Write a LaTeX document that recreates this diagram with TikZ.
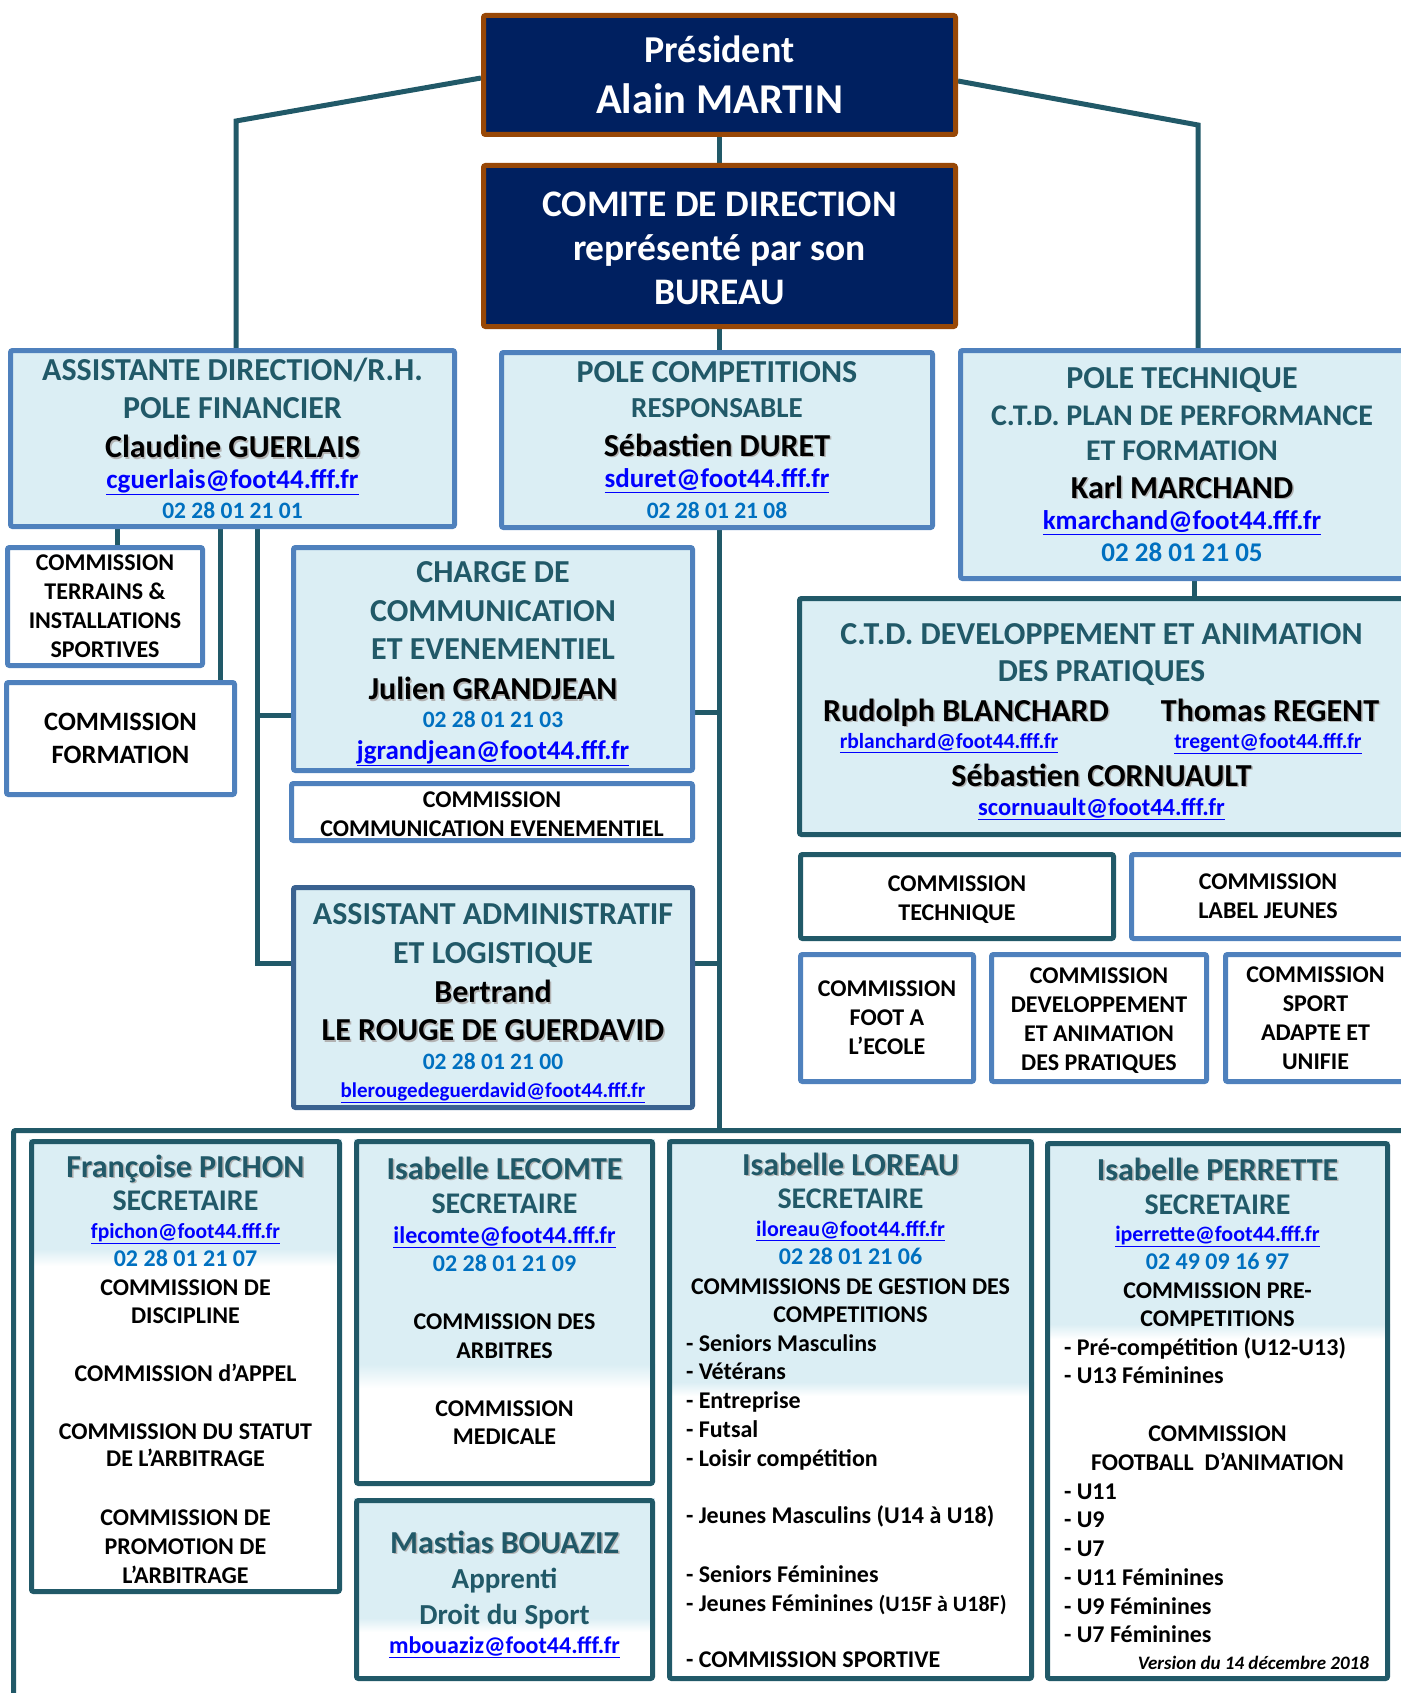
\documentclass[tikz,border=0pt]{standalone}
\usepackage{fontspec}
\setmainfont{Carlito}
\usetikzlibrary{backgrounds}

\definecolor{navy}{HTML}{002060}
\definecolor{rust}{HTML}{984807}
\definecolor{darkteal}{HTML}{215968}
\definecolor{boxblue}{HTML}{4F81BD}
\definecolor{adminblue}{HTML}{3A6290}
\definecolor{paleblue}{HTML}{DBEEF4}
\definecolor{phoneblue}{HTML}{0070C0}
\definecolor{linkblue}{HTML}{0000FF}

% text helpers, all lines keep a 40pt baseline skip
\newcommand\shadowed[1]{\rlap{\kern1.5pt\raisebox{-1.5pt}{\textcolor{black!30}{#1}}}#1}
\newcommand\head[2][32]{{\fontsize{#1}{40}\selectfont\color{darkteal}#2}}
\newcommand\who[2][32]{{\fontsize{#1}{40}\selectfont\shadowed{#2}}}
\newcommand\twho[2][32]{{\fontsize{#1}{40}\selectfont\color{darkteal}\shadowed{#2}}}
\newcommand\mail[2][27]{{\fontsize{#1}{40}\selectfont\color{linkblue}\underline{#2}}}
\newcommand\tel[2][23.5]{{\fontsize{#1}{40}\selectfont\color{phoneblue}#2}}
\newcommand\txt[2][24]{{\fontsize{#1}{40}\selectfont #2}}
\newcommand\puce[2]{\makebox[0pt][l]{\hspace*{#1}\txt{- #2}}}
% struts to move a text block down (first line) or up (last line)
\newcommand\dn[1]{\rule{0pt}{#1}}
\newcommand\up[1]{\rule[-#1]{0pt}{#1}}

\begin{document}
\begin{tikzpicture}[x=1pt, y=-1pt,
    box/.style={line width=5pt, rounded corners=2pt, align=center, inner sep=0pt,
      font=\bfseries\fontsize{20}{40}\selectfont},
    topbox/.style={box, fill=navy, draw=rust, text=white},
    bluebox/.style={box, fill=paleblue, draw=boxblue},
    whitebox/.style={box, fill=white, draw=boxblue},
    tealbox/.style={box, fill=white, draw=darkteal},
    secbox/.style={box, draw=darkteal},
    link/.style={line width=5pt, draw=darkteal}]
  \useasboundingbox (0,0) rectangle (1400,1693);

  % direction
  \node[topbox, minimum width=472pt, minimum height=119pt] (pres) at (719.5,75)
    {{\fontsize{38}{40}\selectfont Président}\\[11pt]{\fontsize{42.5}{40}\selectfont Alain MARTIN}};
  \node[topbox, minimum width=472pt, minimum height=161pt] (comite) at (719.5,246)
    {\dn{29pt}\txt[37.5]{COMITE DE DIRECTION}\\[4pt]\txt[37.5]{représenté par son}\\[4pt]\txt[37.5]{BUREAU}};

  % poles
  \node[bluebox, minimum width=444pt, minimum height=176pt] (assist) at (232.5,438.5)
    {\head{ASSISTANTE DIRECTION/R.H.}\\[-2pt]\head{POLE FINANCIER}\\[-1pt]\who{Claudine GUERLAIS}\\[-9pt]\mail{cguerlais@foot44.fff.fr}\\[-10pt]\tel{02 28 01 21 01}};
  \node[bluebox, minimum width=431pt, minimum height=175pt] (comp) at (717,440)
    {\head{POLE COMPETITIONS}\\[-5pt]\head[29]{RESPONSABLE}\\[-1pt]\who{Sébastien DURET}\\[-9pt]\mail{sduret@foot44.fff.fr}\\[-9pt]\tel{02 28 01 21 08}};
  \node[bluebox, minimum width=443pt, minimum height=228pt] (tech) at (1182,464.5)
    {\head{POLE TECHNIQUE}\\[-3pt]\head[30]{C.T.D. PLAN DE PERFORMANCE}\\[-5pt]\head[30]{ET FORMATION}\\[-2pt]\who{Karl MARCHAND}\\[-9pt]\mail{kmarchand@foot44.fff.fr}\\[-8pt]\tel[27]{02 28 01 21 05}};

  % left column
  \node[whitebox, minimum width=195pt, minimum height=118pt] (terr) at (105,606.5)
    {\txt{COMMISSION}\\[-11pt]\txt{TERRAINS \&}\\[-11pt]\txt{INSTALLATIONS}\\[-11pt]\txt{SPORTIVES}};
  \node[whitebox, minimum width=228pt, minimum height=112pt] (form) at (120.5,738.5)
    {\txt[26.5]{COMMISSION}\\[-7pt]\txt[26.5]{FORMATION}};
  \node[bluebox, minimum width=399pt, minimum height=223pt] (charge) at (493,659)
    {\dn{31pt}\head{CHARGE DE}\\[-1pt]\head{COMMUNICATION}\\[-2pt]\head{ET EVENEMENTIEL}\\[0pt]\who{Julien GRANDJEAN}\\[-12pt]\tel{02 28 01 21 03}\\[-8pt]\mail{jgrandjean@foot44.fff.fr}};
  \node[whitebox, minimum width=401pt, minimum height=57pt] (commcom) at (492,812)
    {\dn{20pt}\txt{COMMISSION}\\[-11pt]\txt{COMMUNICATION EVENEMENTIEL}};
  \node[bluebox, draw=adminblue, minimum width=399pt, minimum height=220pt] (admin) at (493,997.5)
    {\dn{33pt}\head{ASSISTANT ADMINISTRATIF}\\[-1pt]\head{ET LOGISTIQUE}\\[-1pt]\who{Bertrand}\\[-2pt]\who{LE ROUGE DE GUERDAVID}\\[-11pt]\tel{02 28 01 21 00}\\[-12pt]\mail[21]{blerougedeguerdavid@foot44.fff.fr}};

  % right column
  \node[bluebox, draw=darkteal, minimum width=604pt, minimum height=236pt] (ctd) at (1101.5,716.5)
    {\dn{31pt}\head{C.T.D. DEVELOPPEMENT ET ANIMATION}\\[-3pt]\head{DES PRATIQUES}\\[0pt]%
     \makebox[0pt]{\hspace*{-271pt}\who{Rudolph BLANCHARD}}\makebox[0pt]{\hspace*{337pt}\who{Thomas REGENT}}\\[-13pt]%
     \makebox[0pt]{\hspace*{-305pt}\mail[21.5]{rblanchard@foot44.fff.fr}}\makebox[0pt]{\hspace*{333pt}\mail[21.5]{tregent@foot44.fff.fr}}\\[-2pt]%
     \who{Sébastien CORNUAULT}\\[-11pt]\mail[24.5]{scornuault@foot44.fff.fr}};
  \node[tealbox, minimum width=313pt, minimum height=84pt] (ctech) at (957,896.5)
    {\dn{22pt}\txt{COMMISSION}\\[-11pt]\txt{TECHNIQUE}};
  \node[whitebox, minimum width=273pt, minimum height=84pt] (jeunes) at (1268,896.5)
    {\txt{COMMISSION}\\[-11pt]\txt{LABEL JEUNES}};
  \node[whitebox, minimum width=173pt, minimum height=127pt] (foot) at (887,1018)
    {\txt{COMMISSION}\\[-11pt]\txt{FOOT A}\\[-11pt]\txt{L’ECOLE}};
  \node[whitebox, minimum width=215pt, minimum height=127pt] (devpr) at (1099,1018)
    {\dn{20pt}\txt{COMMISSION}\\[-11pt]\txt{DEVELOPPEMENT}\\[-11pt]\txt{ET ANIMATION}\\[-11pt]\txt{DES PRATIQUES}};
  \node[whitebox, minimum width=180pt, minimum height=127pt] (sport) at (1315.5,1018)
    {\txt{COMMISSION}\\[-11pt]\txt{SPORT}\\[-11pt]\txt{ADAPTE ET}\\[-11pt]\txt{UNIFIE}};

  % secretariat
  \node[secbox, minimum width=1404pt, minimum height=587pt] (bottom) at (715.5,1424) {};
  \node[secbox, minimum width=308pt, minimum height=450pt] (pichon) at (185.5,1366.5)
    {\dn{28pt}\twho{Françoise PICHON}\\[-7pt]\head[30]{SECRETAIRE}\\[-12pt]\mail[21.5]{fpichon@foot44.fff.fr}\\[-12pt]\tel[24]{02 28 01 21 07}\\[-11pt]%
     \txt{COMMISSION DE}\\[-12pt]\txt{DISCIPLINE}\\[18pt]\txt{COMMISSION d’APPEL}\\[18pt]%
     \txt{COMMISSION DU STATUT}\\[-13pt]\txt{DE L’ARBITRAGE}\\[19pt]%
     \txt{COMMISSION DE}\\[-11pt]\txt{PROMOTION DE}\\[-11pt]\txt{L’ARBITRAGE}};
  \node[secbox, minimum width=296pt, minimum height=342pt] (lecomte) at (504.5,1312.5)
    {\twho{Isabelle LECOMTE}\\[-6pt]\head[30]{SECRETAIRE}\\[-10pt]\mail[24]{ilecomte@foot44.fff.fr}\\[-12pt]\tel[24]{02 28 01 21 09}\\[18pt]%
     \txt{COMMISSION DES}\\[-11pt]\txt{ARBITRES}\\[18pt]\txt{COMMISSION}\\[-12pt]\txt{MEDICALE}\up{24pt}};
  \node[secbox, minimum width=296pt, minimum height=178pt] (bouaziz) at (504.5,1589.5)
    {\dn{32pt}\twho{Mastias BOUAZIZ}\\[-5pt]\head[29]{Apprenti}\\[-4pt]\head[29]{Droit du Sport}\\[-11pt]\mail[24]{mbouaziz@foot44.fff.fr}};
  \node[secbox, minimum width=362pt, minimum height=537pt] (loreau) at (850.5,1410)
    {\twho{Isabelle LOREAU}\\[-7pt]\head[30]{SECRETAIRE}\\[-12pt]\mail[22]{iloreau@foot44.fff.fr}\\[-12pt]\tel[24]{02 28 01 21 06}\\[-10pt]%
     \txt{COMMISSIONS DE GESTION DES}\\[-12pt]\txt{COMPETITIONS}\\[-11pt]%
     \puce{-164.5pt}{Seniors Masculins}\\[-12pt]\puce{-164.5pt}{Vétérans}\\[-11pt]\puce{-164.5pt}{Entreprise}\\[-11pt]%
     \puce{-164.5pt}{Futsal}\\[-11pt]\puce{-164.5pt}{Loisir compétition}\\[17pt]%
     \puce{-164.5pt}{Jeunes Masculins (U14 à U18)}\\[19pt]\puce{-164.5pt}{Seniors Féminines}\\[-11pt]%
     \puce{-164.5pt}{Jeunes Féminines {\fontsize{22}{40}\selectfont(U15F à U18F)}}\\[16pt]\puce{-164.5pt}{COMMISSION SPORTIVE}};
  \node[secbox, minimum width=340pt, minimum height=535pt] (perrette) at (1217.5,1411)
    {\dn{28pt}\twho{Isabelle PERRETTE}\\[-6pt]\head[30]{SECRETAIRE}\\[-13pt]\mail[22]{iperrette@foot44.fff.fr}\\[-12pt]\tel[24]{02 49 09 16 97}\\[-11pt]%
     \txt{COMMISSION PRE-}\\[-12pt]\txt{COMPETITIONS}\\[-11pt]%
     \puce{-153.5pt}{Pré-compétition (U12-U13)}\\[-12pt]\puce{-153.5pt}{U13 Féminines}\\[18pt]%
     \txt{COMMISSION}\\[-11pt]\txt{FOOTBALL\ \ D’ANIMATION}\\[-11pt]%
     \puce{-153.5pt}{U11}\\[-12pt]\puce{-153.5pt}{U9}\\[-11pt]\puce{-153.5pt}{U7}\\[-11pt]%
     \puce{-153.5pt}{U11 Féminines}\\[-11pt]\puce{-153.5pt}{U9 Féminines}\\[-12pt]\puce{-153.5pt}{U7 Féminines}\\[-13pt]%
     \makebox[0pt][r]{{\itshape\fontsize{19}{40}\selectfont Version du 14 décembre 2018}\hspace*{-151.5pt}}};

  \begin{scope}[on background layer]
    % connectors
    \coordinate (lk) at (236,121);
    \coordinate (rk) at (1198,125);
    \draw[link] ([yshift=-3pt]pres.west) -- (lk) -- (lk |- assist.north);
    \draw[link] ([yshift=-6pt]pres.east) -- (rk) -- (rk |- tech.north);
    \draw[link] (pres.south) -- (comite.north);
    \draw[link] (comite.south) -- (comite.south |- bottom.north);
    \coordinate (ls) at (257,963);
    \coordinate (lc) at (257,715);
    \draw[link] (ls |- assist.south) -- (ls) -- (admin.west |- ls);
    \draw[link] (lc) -- (charge.west |- lc);
    \draw[link] (charge.east |- 0,712) -- (comite.south |- 0,712);
    \draw[link] (admin.east |- ls) -- (comite.south |- ls);
    \draw[link] (117,0 |- assist.south) -- (117,0 |- terr.north);
    \draw[link] (220,0 |- assist.south) -- (220,0 |- form.north);
    \draw[link] (1194,0 |- tech.south) -- (1194,0 |- ctd.north);
    % fading fills of the secretariat boxes
    \fill[paleblue] (pichon.north west) rectangle (pichon.east |- 0,1250);
    \shade[top color=paleblue, bottom color=white] (pichon.west |- 0,1249) rectangle (pichon.east |- 0,1266);
    \fill[paleblue] (lecomte.north west) rectangle (lecomte.east |- 0,1365);
    \shade[top color=paleblue, bottom color=white] (lecomte.west |- 0,1364) rectangle (lecomte.east |- 0,1388);
    \fill[paleblue] (bouaziz.north west) rectangle (bouaziz.east |- 0,1619);
    \shade[top color=paleblue, bottom color=white] (bouaziz.west |- 0,1618) rectangle (bouaziz.east |- 0,1632);
    \fill[paleblue] (loreau.north west) rectangle (loreau.east |- 0,1383);
    \shade[top color=paleblue, bottom color=white] (loreau.west |- 0,1382) rectangle (loreau.east |- 0,1396);
    \fill[paleblue] (perrette.north west) rectangle (perrette.east |- 0,1325);
    \shade[top color=paleblue, bottom color=white] (perrette.west |- 0,1324) rectangle (perrette.east |- 0,1339);
  \end{scope}
\end{tikzpicture}
\end{document}
